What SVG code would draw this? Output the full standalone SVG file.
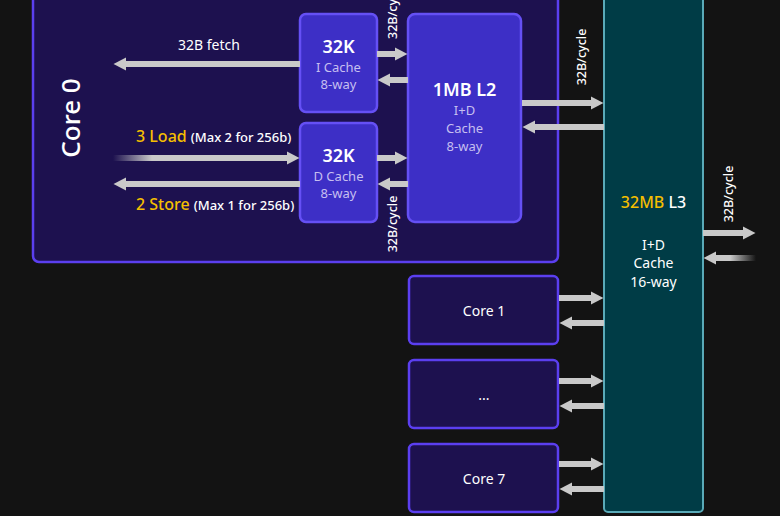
<svg xmlns="http://www.w3.org/2000/svg" width="780" height="516" viewBox="0 0 780 516">
<defs>
<style>
text{font-family:"Noto Sans","Open Sans","DejaVu Sans",sans-serif;fill:#ffffff}
.core{fill:#1d114f;stroke:#5b3ff0;stroke-width:2.5}
.cache{fill:#3d2fc6;stroke:#6550f5;stroke-width:2.5}
.l3{fill:#003c46;stroke:#5aaab8;stroke-width:2}
.big{font-size:18px;font-weight:600;text-anchor:middle}
.sub{font-size:13px;fill:#c6bff0;text-anchor:middle}
.lbl{font-size:14px;text-anchor:middle}
.bw{font-size:12.5px;font-weight:500}
.y{fill:#f5bf00}
.sh{stroke:#c9c9c9;stroke-width:6;fill:none}
</style>
<marker id="ah" markerUnits="userSpaceOnUse" markerWidth="13" markerHeight="14" refX="0" refY="7" orient="auto">
<path d="M0,0.5 L12.5,7 L0,13.5 z" fill="#c9c9c9"/>
</marker>
<linearGradient id="fadeL" gradientUnits="userSpaceOnUse" x1="113" y1="0" x2="152" y2="0">
<stop offset="0" stop-color="#c9c9c9" stop-opacity="0"/>
<stop offset="1" stop-color="#c9c9c9" stop-opacity="1"/>
</linearGradient>
<linearGradient id="fadeR" gradientUnits="userSpaceOnUse" x1="730" y1="0" x2="756" y2="0">
<stop offset="0" stop-color="#c9c9c9" stop-opacity="1"/>
<stop offset="1" stop-color="#c9c9c9" stop-opacity="0"/>
</linearGradient>
</defs>
<rect width="780" height="516" fill="#131313"/>

<g id="core0">
<rect class="core" x="33" y="-10" width="525" height="272" rx="6"/>
<text transform="translate(80,118) rotate(-90)" font-size="26" font-weight="500" text-anchor="middle">Core 0</text>
<text class="lbl" x="209" y="50">32B fetch</text>
<text x="136" y="142" font-size="16" font-weight="500"><tspan class="y">3 Load</tspan><tspan font-size="13" dx="4">(Max 2 for 256b)</tspan></text>
<text x="136" y="210" font-size="16" font-weight="500"><tspan class="y">2 Store</tspan><tspan font-size="13" dx="4">(Max 1 for 256b)</tspan></text>
<text class="bw" transform="translate(397,39) rotate(-90)">32B/cycle</text>
<text class="bw" transform="translate(397,224) rotate(-90)" text-anchor="middle">32B/cycle</text>
</g>

<g id="icache">
<rect class="cache" x="300" y="14" width="77" height="98" rx="6"/>
<text class="big" x="338.5" y="53">32K</text>
<text class="sub" x="338.5" y="72">I Cache</text>
<text class="sub" x="338.5" y="89">8-way</text>
</g>

<g id="dcache">
<rect class="cache" x="300" y="123" width="77" height="99" rx="6"/>
<text class="big" x="338.5" y="162">32K</text>
<text class="sub" x="338.5" y="181">D Cache</text>
<text class="sub" x="338.5" y="198">8-way</text>
</g>

<g id="l2">
<rect class="cache" x="408" y="14" width="113" height="208" rx="7"/>
<text class="big" x="464.5" y="96">1MB L2</text>
<text class="sub" x="464.5" y="115" font-size="14.5">I+D</text>
<text class="sub" x="464.5" y="133" font-size="14.5">Cache</text>
<text class="sub" x="464.5" y="151" font-size="14.5">8-way</text>
</g>

<g id="l3">
<rect class="l3" x="604" y="-10" width="99" height="522" rx="4"/>
<text x="653.5" y="208" font-size="16" font-weight="500" text-anchor="middle"><tspan class="y">32MB</tspan> L3</text>
<text class="lbl" x="653.5" y="250">I+D</text>
<text class="lbl" x="653.5" y="268">Cache</text>
<text class="lbl" x="653.5" y="287">16-way</text>
</g>

<g id="core1">
<rect class="core" x="409" y="276" width="149" height="68" rx="5"/>
<text class="lbl" x="484" y="316">Core 1</text>
</g>
<g id="coreN">
<rect class="core" x="409" y="360" width="149" height="68" rx="5"/>
<text class="lbl" x="484" y="400">...</text>
</g>
<g id="core7">
<rect class="core" x="409" y="444" width="149" height="68" rx="5"/>
<text class="lbl" x="484" y="484">Core 7</text>
</g>

<g id="connectors">
<line class="sh" x1="300" y1="64" x2="126" y2="64" marker-end="url(#ah)"/>
<line x1="113" y1="158" x2="287" y2="158" stroke="url(#fadeL)" stroke-width="6" marker-end="url(#ah)"/>
<line class="sh" x1="300" y1="184" x2="126" y2="184" marker-end="url(#ah)"/>
<line class="sh" x1="377" y1="54" x2="395" y2="54" marker-end="url(#ah)"/>
<line class="sh" x1="408" y1="80" x2="390" y2="80" marker-end="url(#ah)"/>
<line class="sh" x1="377" y1="158" x2="395" y2="158" marker-end="url(#ah)"/>
<line class="sh" x1="408" y1="184" x2="390" y2="184" marker-end="url(#ah)"/>
<line class="sh" x1="522" y1="103" x2="591" y2="103" marker-end="url(#ah)"/>
<line class="sh" x1="604" y1="127" x2="535" y2="127" marker-end="url(#ah)"/>
<text class="bw" transform="translate(586,57) rotate(-90)" text-anchor="middle">32B/cycle</text>
<line class="sh" x1="703" y1="233" x2="743" y2="233" marker-end="url(#ah)"/>
<line x1="756" y1="258" x2="716" y2="258" stroke="url(#fadeR)" stroke-width="6" marker-end="url(#ah)"/>
<text class="bw" transform="translate(733,194) rotate(-90)" text-anchor="middle">32B/cycle</text>
<line class="sh" x1="559" y1="298" x2="591" y2="298" marker-end="url(#ah)"/>
<line class="sh" x1="604" y1="323" x2="572" y2="323" marker-end="url(#ah)"/>
<line class="sh" x1="559" y1="381" x2="591" y2="381" marker-end="url(#ah)"/>
<line class="sh" x1="604" y1="406" x2="572" y2="406" marker-end="url(#ah)"/>
<line class="sh" x1="559" y1="464" x2="591" y2="464" marker-end="url(#ah)"/>
<line class="sh" x1="604" y1="489" x2="572" y2="489" marker-end="url(#ah)"/>
</g>
</svg>
